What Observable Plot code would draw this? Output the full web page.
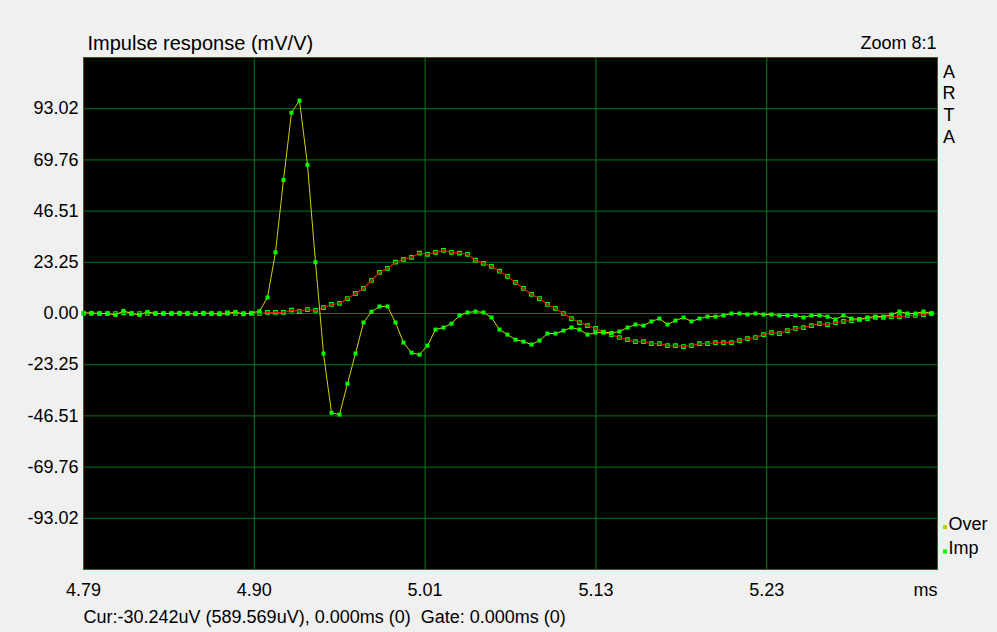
<!DOCTYPE html>
<html>
<head>
<meta charset="utf-8">
<script src="https://cdn.jsdelivr.net/npm/d3@7"></script>
<script src="https://cdn.jsdelivr.net/npm/@observablehq/plot@0.6"></script>
<style>
  html, body { margin: 0; padding: 0; background: #f0f0f0; }
  #chart { width: 997px; height: 632px; overflow: hidden; }
</style>
</head>
<body>
<div id="chart"></div>
<script>
// ---- data ----
const t0Ms = 4.79;            // first sample time (ms)
const samplePeriodMs = 1 / 192; // 192 kHz sampling
const xSpanMs = 0.556;        // visible time window
const xTickLabels = ["4.79", "4.90", "5.01", "5.13", "5.23"];
const yTicks = [93.02, 69.76, 46.51, 23.25, 0, -23.25, -46.51, -69.76, -93.02];
const yLimit = 116.275;

// Impulse response (mV/V), one value per sample
const impValues = [
  0.3, 0.27, 0, 0, -0.64, 1.19, 0, -0.64, 0.73, 0,
  0, 0, 0.27, 0, -0.32, 0.27, 0, -0.32, 0, 0.73,
  -0.32, 0.27, 1.05, 7.3, 27.8, 60.6, 91.2, 96.7, 67.5, 23.3,
  -18.2, -45.1, -45.9, -31.9, -18.2, -4.1, 0.8, 3.2, 3.2, -4.1,
  -13.2, -17.8, -18.7, -14.6, -7.3, -6.4, -4.6, -0.9, 0.46, 0.9,
  0.46, -1.8, -7.3, -9.6, -11.9, -12.8, -14.1, -12.3, -9.1, -9.1,
  -7.8, -6.4, -7.3, -9.6, -8.7, -8.5, -8.8, -8.2, -6.4, -5.0,
  -5.5, -3.6, -2.3, -5.0, -3.2, -1.8, -3.6, -2.3, -1.4, -1.4,
  -0.9, 0, 0, -0.46, 0, -0.46, -0.46, -0.9, -0.9, -0.9,
  -1.8, -0.9, -0.9, -1.4, -2.7, -0.9, -2.3, -2.7, -1.8, -1.4,
  -1.4, -0.46, 0.9, 0, 0, 0.9, 0
];

// Overlay curve (mV/V), one value per sample
const overValues = [
  0, 0, 0, 0, 0, 0.3, 0, 0, 0, 0,
  0, 0, 0, 0, 0, 0, 0, 0, 0.3, 0,
  0, 0, 0, 0.46, 0.46, 0.46, 1.5, 0.9, 1.8, 1.4,
  2.7, 4.1, 4.6, 6.8, 9.1, 11.4, 15.0, 18.7, 20.5, 23.3,
  24.6, 25.5, 27.4, 26.9, 27.8, 28.7, 27.8, 27.4, 26.9, 24.2,
  22.8, 21.4, 19.2, 16.9, 14.1, 11.4, 8.7, 6.8, 4.1, 2.3,
  0, -2.3, -4.1, -5.5, -6.8, -8.5, -9.6, -10.9, -11.9, -12.8,
  -12.8, -13.7, -13.7, -14.6, -14.6, -15.0, -14.6, -13.7, -13.7, -13.2,
  -13.2, -13.2, -12.3, -11.4, -10.9, -9.6, -8.7, -9.1, -7.8, -6.8,
  -6.4, -5.5, -4.6, -5.0, -4.1, -3.6, -3.2, -2.7, -2.3, -1.8,
  -1.8, -1.4, -1.4, -0.9, -0.9, -0.46, 0
];

const titleText = "Impulse response (mV/V)";
const zoomText = "Zoom 8:1";
const brandText = "A\nR\nT\nA";
const unitText = "ms";
const footerText = "Cur:-30.242uV (589.569uV), 0.000ms (0)\u00a0 Gate: 0.000ms (0)";
const legendItems = ["Over", "Imp"];

// ---- build ----
const imp = impValues.map((v, i) => ({t: t0Ms + i * samplePeriodMs, v}));
const over = overValues.map((v, i) => ({t: t0Ms + i * samplePeriodMs, v}));
const xTicks = xTickLabels.map((_, i) => t0Ms + i * xSpanMs / 5);

const GRID = "#007a1e";
const FONT = "'Liberation Sans', Arial, sans-serif";

const chart = Plot.plot({
  width: 997,
  height: 632,
  marginLeft: 83,
  marginRight: 60,
  marginTop: 57,
  marginBottom: 63,
  style: {background: "#f0f0f0", color: "#000", fontFamily: FONT, fontSize: "18px", overflow: "visible"},
  x: {domain: [t0Ms, t0Ms + xSpanMs]},
  y: {domain: [-yLimit, yLimit]},
  marks: [
    Plot.frame({fill: "#000", stroke: null}),
    Plot.gridX(xTicks, {stroke: GRID, strokeOpacity: 1, strokeWidth: 1}),
    Plot.gridY(yTicks, {stroke: GRID, strokeOpacity: 1, strokeWidth: 1}),
    Plot.dot(over, {x: "t", y: "v", symbol: "square", r: 2.0, fill: "none", stroke: "#00ff00", strokeWidth: 1.2}),
    Plot.line(over, {x: "t", y: "v", stroke: "#e01800", strokeWidth: 1.2}),
    Plot.line(imp, {x: "t", y: "v", stroke: "#d2d200", strokeWidth: 1}),
    Plot.dot(imp, {x: "t", y: "v", symbol: "square", r: 2.26, fill: "#00ff00", stroke: null}),
    Plot.frame({stroke: GRID, strokeWidth: 1}),
    Plot.axisY(yTicks, {tickSize: 0, tickPadding: 5, tickFormat: d => d.toFixed(2), fontSize: 18, label: null}),
    Plot.axisX(xTicks, {tickSize: 0, tickPadding: 14, tickFormat: (d, i) => xTickLabels[i], fontSize: 18, label: null}),
    Plot.text([unitText], {frameAnchor: "bottom-right", textAnchor: "end", lineAnchor: "top", dy: 14, fontSize: 18}),
    Plot.text([titleText], {frameAnchor: "top-left", textAnchor: "start", lineAnchor: "bottom", dx: 4, dy: -8, fontSize: 20}),
    Plot.text([zoomText], {frameAnchor: "top-right", textAnchor: "end", lineAnchor: "bottom", dx: -1, dy: -8.5, fontSize: 18}),
    Plot.text([brandText], {frameAnchor: "top-right", textAnchor: "middle", lineAnchor: "top", lineHeight: 1.205, dx: 11.5, dy: 4.7, fontSize: 18}),
    Plot.dot([legendItems[0]], {frameAnchor: "bottom-right", symbol: "square", r: 2.26, fill: "#c8c800", dx: 7.5, dy: -42.5}),
    Plot.dot([legendItems[1]], {frameAnchor: "bottom-right", symbol: "square", r: 2.26, fill: "#00ff00", dx: 7.5, dy: -18}),
    Plot.text([legendItems[0]], {frameAnchor: "bottom-right", textAnchor: "start", lineAnchor: "bottom", dx: 11, dy: -40, fontSize: 18}),
    Plot.text([legendItems[1]], {frameAnchor: "bottom-right", textAnchor: "start", lineAnchor: "bottom", dx: 11, dy: -16, fontSize: 18}),
    Plot.text([footerText], {frameAnchor: "bottom-left", textAnchor: "start", lineAnchor: "bottom", dx: 0, dy: 53.7, fontSize: 18})
  ]
});
document.getElementById("chart").appendChild(chart);
</script>
</body>
</html>
